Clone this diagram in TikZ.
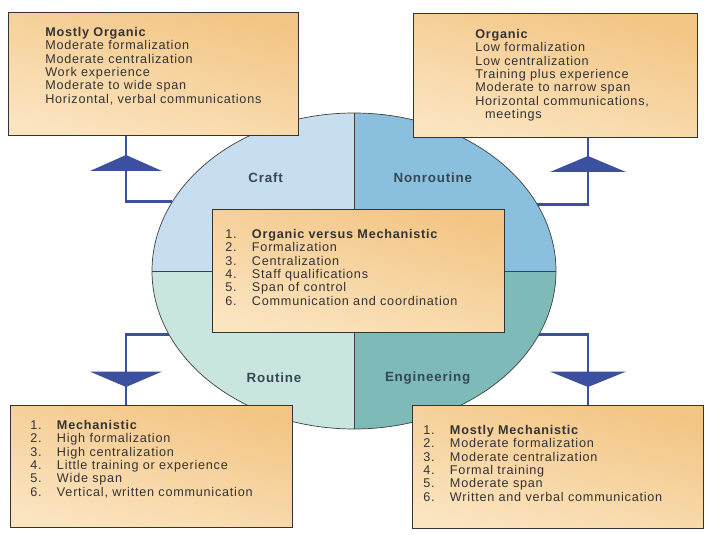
\documentclass[tikz,border=0pt]{standalone}
\usepackage{fontspec}
\setmainfont{Liberation Sans}[LetterSpace=6]
\usetikzlibrary{positioning, shapes.geometric}

\definecolor{craftblue}{RGB}{198,222,240}
\definecolor{nonroutineblue}{RGB}{138,192,222}
\definecolor{routinegreen}{RGB}{200,229,223}
\definecolor{engteal}{RGB}{126,186,184}
\definecolor{boxdark}{RGB}{243,197,132}
\definecolor{boxlight}{RGB}{251,228,192}
\definecolor{linkblue}{RGB}{60,80,160}
\definecolor{labelgray}{RGB}{55,70,85}

\newcommand{\itemno}[1]{\makebox[19pt][l]{#1}}

\begin{document}
\begin{tikzpicture}[
    box/.style={draw=black!80, line width=0.6pt, top color=boxdark, bottom color=boxlight,
                shading angle=-15, anchor=north west, inner sep=0pt},
    list/.style={anchor=north west, align=left, inner sep=0pt, text=black!80,
                 font=\fontsize{9}{9.5}\selectfont},
    quad/.style={font=\fontsize{9.5}{11}\selectfont\bfseries, text=labelgray},
    link/.style={draw=linkblue, line width=2pt},
    wedge/.style={fill=linkblue},
]
\useasboundingbox (0,0) rectangle (18,13.5);
\fill[white] (0,0) rectangle (18,13.5);

% ---- Technology ellipse ----
\node[ellipse, draw=black!75, line width=0.5pt, minimum width=10.1cm, minimum height=7.9cm,
      inner sep=0pt, path picture={
        \fill[craftblue] (path picture bounding box.center) rectangle (path picture bounding box.north west);
        \fill[nonroutineblue] (path picture bounding box.center) rectangle (path picture bounding box.north east);
        \fill[routinegreen] (path picture bounding box.center) rectangle (path picture bounding box.south west);
        \fill[engteal] (path picture bounding box.center) rectangle (path picture bounding box.south east);
        \draw[black!75, line width=0.5pt] (path picture bounding box.north) -- (path picture bounding box.south)
              (path picture bounding box.west) -- (path picture bounding box.east);
      }] (tech) at (8.85, 6.725) {};

\node[quad] (craft) at (6.64, 9.05) {Craft};
\node[quad] (nonroutine) at (10.82, 9.05) {Nonroutine};
\node[quad] (routine) at (6.85, 4.05) {Routine};
\node[quad] (engineering) at (10.69, 4.05) {Engineering};

% ---- Connectors ----
\coordinate (tlfoot) at (3.15, 9.225);
\coordinate (trfoot) at (14.7, 9.2);
\coordinate (blfoot) at (3.15, 4.21);
\coordinate (brfoot) at (14.7, 4.21);

% ---- Boxes ----
\node[box, minimum width=7.25cm, minimum height=3.075cm] (tlbox) at (0.2, 13.2) {};
\node[box, minimum width=7.1cm, minimum height=3.1cm] (trbox) at (10.325, 13.175) {};
\node[box, minimum width=7.3cm, minimum height=3.075cm] (cbox) at (5.3, 8.275) {};
\node[box, minimum width=7.05cm, minimum height=3.05cm] (blbox) at (0.25, 3.375) {};
\node[box, minimum width=7.275cm, minimum height=3.075cm] (brbox) at (10.3, 3.375) {};

\draw[link] (tech.159.5) -| (tlbox.south -| tlfoot);
\draw[link] (tech.20.5) -| (trbox.south -| trfoot);
\draw[link] (tech.199.8) -| (blbox.north -| blfoot);
\draw[link] (tech.-19.8) -| (brbox.north -| brfoot);

\fill[wedge] (tlfoot) ++(-0.9,0) -- ++(1.8,0) -- ++(-0.9,0.4) -- cycle;
\fill[wedge] (trfoot) ++(-0.95,0) -- ++(1.9,0) -- ++(-0.95,0.4) -- cycle;
\fill[wedge] (blfoot) ++(-0.9,0) -- ++(1.8,0) -- ++(-0.9,-0.385) -- cycle;
\fill[wedge] (brfoot) ++(-0.95,0) -- ++(1.9,0) -- ++(-0.95,-0.385) -- cycle;

% ---- Box texts ----
\node[list, below right=0.375cm and 0.925cm of tlbox.north west] (tltext)
    {\textbf{Mostly Organic}\\
     Moderate formalization\\
     Moderate centralization\\
     Work experience\\
     Moderate to wide span\\
     Horizontal, verbal communications};

\node[list, below right=0.4cm and 1.55cm of trbox.north west] (trtext)
    {\textbf{Organic}\\
     Low formalization\\
     Low centralization\\
     Training plus experience\\
     Moderate to narrow span\\
     Horizontal communications,\\
     \hspace*{7pt}meetings};

\node[list, below right=0.5cm and 0.325cm of cbox.north west] (ctext)
    {\itemno{1.}\textbf{Organic versus Mechanistic}\\
     \itemno{2.}Formalization\\
     \itemno{3.}Centralization\\
     \itemno{4.}Staff qualifications\\
     \itemno{5.}Span of control\\
     \itemno{6.}Communication and coordination};

\node[list, below right=0.375cm and 0.5cm of blbox.north west] (bltext)
    {\itemno{1.}\textbf{Mechanistic}\\
     \itemno{2.}High formalization\\
     \itemno{3.}High centralization\\
     \itemno{4.}Little training or experience\\
     \itemno{5.}Wide span\\
     \itemno{6.}Vertical, written communication};

\node[list, below right=0.5cm and 0.275cm of brbox.north west] (brtext)
    {\itemno{1.}\textbf{Mostly Mechanistic}\\
     \itemno{2.}Moderate formalization\\
     \itemno{3.}Moderate centralization\\
     \itemno{4.}Formal training\\
     \itemno{5.}Moderate span\\
     \itemno{6.}Written and verbal communication};

\end{tikzpicture}
\end{document}
